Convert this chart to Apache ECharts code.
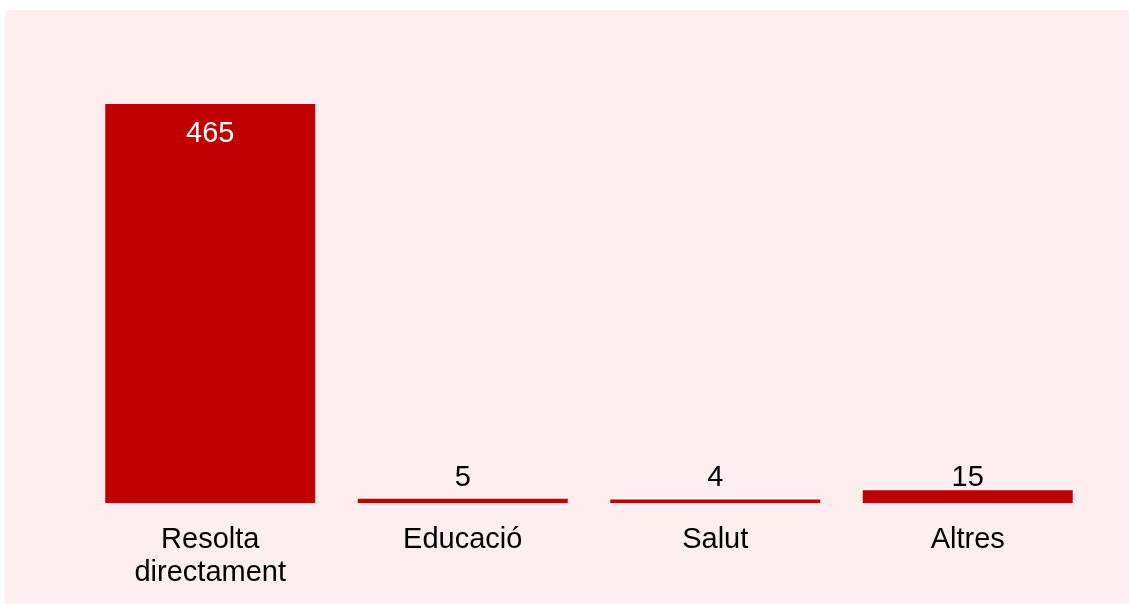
<!DOCTYPE html>
<html>
<head>
<meta charset="utf-8">
<script src="https://cdn.jsdelivr.net/npm/echarts@6/dist/echarts.min.js"></script>
<style>
html,body{margin:0;padding:0;background:#ffffff;}
#chart{position:absolute;left:5px;top:10px;width:1124px;height:594px;background:#FEEEEE;}
</style>
</head>
<body>
<div id="chart"></div>
<script>
const categories = ["Resolta\ndirectament", "Educació", "Salut", "Altres"];
const values = [465, 5, 4, 15];
const labelDistances = [15, 6, 7, -2];

const chart = echarts.init(document.getElementById('chart'));
chart.setOption({
  backgroundColor: '#FEEEEE',
  animation: false,
  grid: {left: 79, right: 35, top: 94, bottom: 101},
  xAxis: {
    type: 'category',
    data: categories,
    axisLine: {show: false},
    axisTick: {show: false},
    axisLabel: {
      color: '#000000',
      fontFamily: 'Liberation Sans, Arial, sans-serif',
      fontSize: 29,
      lineHeight: 33,
      margin: 20
    }
  },
  yAxis: {
    type: 'value',
    min: 0,
    max: 465,
    show: false,
    splitLine: {show: false}
  },
  series: [{
    type: 'bar',
    data: values.map((v, i) => ({
      value: v,
      label: i === 0
        ? {position: 'insideTop', color: '#ffffff', distance: labelDistances[i]}
        : {position: 'top', color: '#000000', distance: labelDistances[i]}
    })),
    barWidth: 210,
    itemStyle: {color: '#C00000'},
    label: {
      show: true,
      fontFamily: 'Liberation Sans, Arial, sans-serif',
      fontSize: 29
    }
  }]
});
</script>
</body>
</html>
